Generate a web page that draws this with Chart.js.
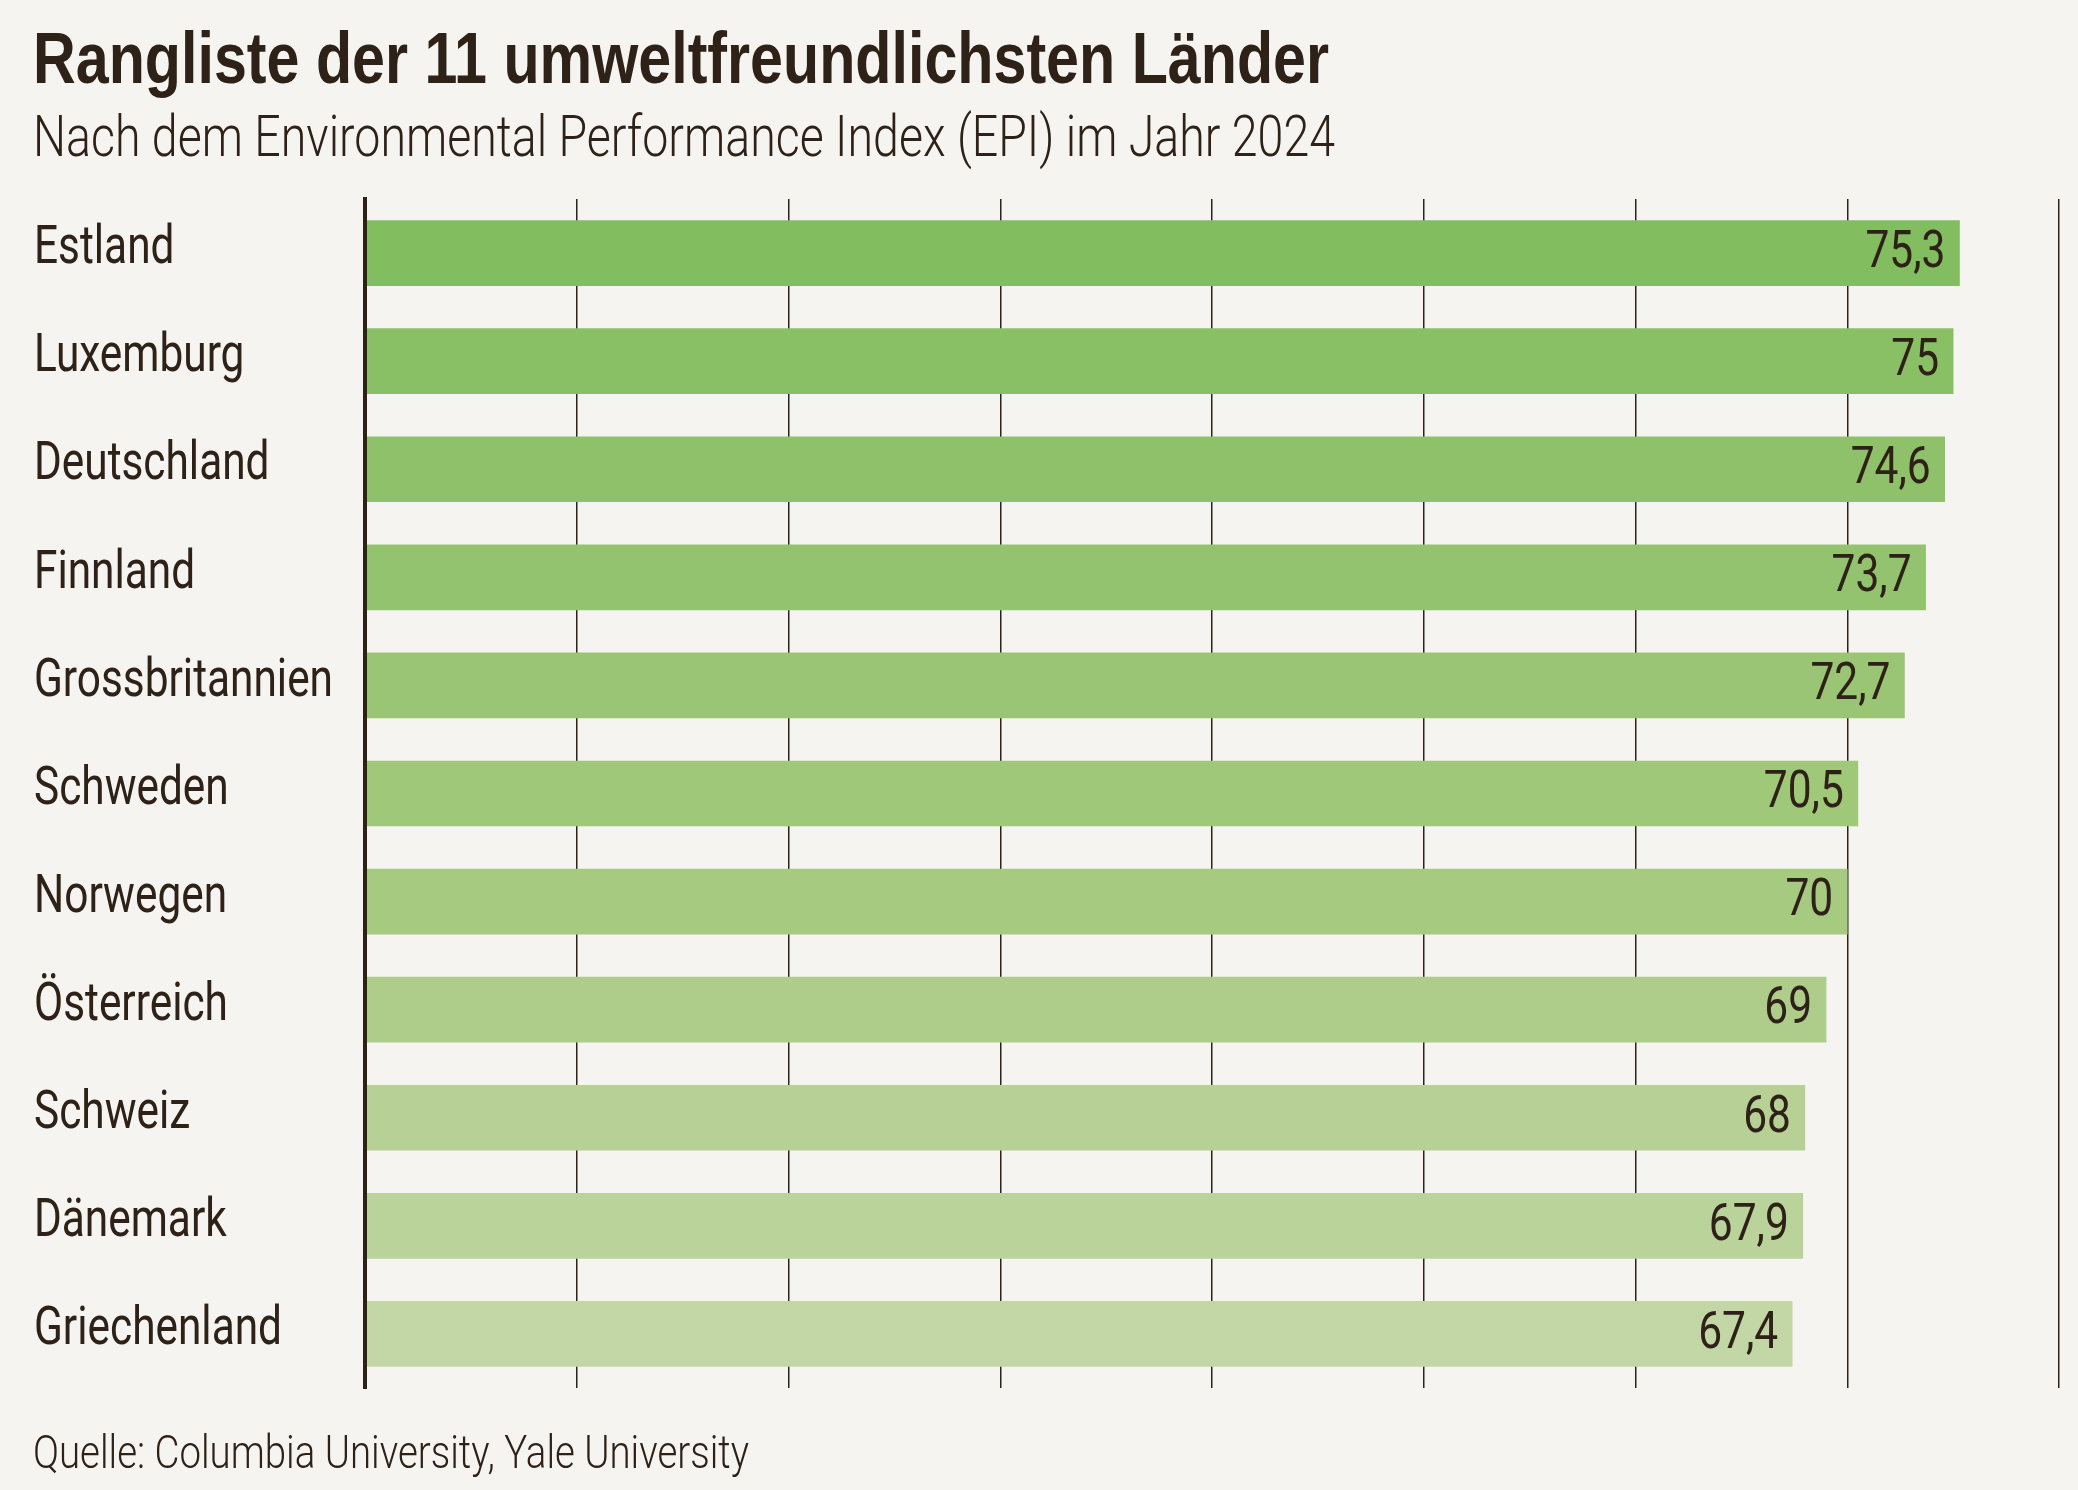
<!DOCTYPE html>
<html><head><meta charset="utf-8">
<script src="https://cdn.jsdelivr.net/npm/chart.js@4"></script>
<style>
html,body{margin:0;padding:0;background:#f5f4f0;}
body{width:2078px;height:1490px;position:relative;overflow:hidden;font-family:Roboto,"Liberation Sans",Arial,sans-serif;color:#2e2218;}
.t{position:absolute;left:33px;white-space:nowrap;line-height:1;transform-origin:0 0;}
#title{top:22px;font-size:72px;font-weight:bold;font-family:"Liberation Sans",Arial,sans-serif;}
#sub{top:108px;font-size:57px;font-weight:300;}
#src{top:1428px;font-size:47px;font-weight:300;}
#wrap{position:absolute;left:0;top:0;width:2078px;height:1490px;}
</style></head>
<body>
<div id="wrap"><canvas id="c" width="2078" height="1490"></canvas></div>
<div class="t" id="title" data-w="1296">Rangliste der 11 umweltfreundlichsten Länder</div>
<div class="t" id="sub" data-w="1302">Nach dem Environmental Performance Index (EPI) im Jahr 2024</div>
<div class="t" id="src" data-w="716">Quelle: Columbia University, Yale University</div>
<script>
const categories = ['Estland','Luxemburg','Deutschland','Finnland','Grossbritannien','Schweden','Norwegen','Österreich','Schweiz','Dänemark','Griechenland'];
const values = [75.3, 75, 74.6, 73.7, 72.7, 70.5, 70, 69, 68, 67.9, 67.4];
const valueLabels = ['75,3','75','74,6','73,7','72,7','70,5','70','69','68','67,9','67,4'];
const barColors = ['#82be60','#89c066','#8ec16a','#93c36e','#99c574','#9fc879','#a6ca80','#afcd8a','#b6d095','#bad39a','#c2d6a6'];
const xTicks = [0,10,20,30,40,50,60,70,80];

const FONT = 'Roboto,"Liberation Sans",Arial,sans-serif';
const INK = '#2e2218';

const labelPlugin = {
  id: 'labels',
  afterDatasetsDraw(chart) {
    const ctx = chart.ctx;
    const meta = chart.getDatasetMeta(0);
    const ys = chart.scales.y;
    ctx.save();
    ctx.fillStyle = INK;
    ctx.textBaseline = 'middle';
    ctx.font = '400 53px ' + FONT;
    const catScale = 248 / ctx.measureText('Griechenland').width;
    ctx.textAlign = 'left';
    categories.forEach((c, i) => {
      const y = ys.getPixelForValue(i) - 3;
      ctx.save();
      ctx.translate(34, y);
      ctx.scale(catScale, 1);
      ctx.fillText(c, 0, 0);
      ctx.restore();
    });
    ctx.font = '400 51px ' + FONT;
    const valScale = 80 / ctx.measureText('75,3').width;
    ctx.textAlign = 'right';
    meta.data.forEach((bar, i) => {
      ctx.save();
      ctx.translate(bar.x - 14, bar.y + 1);
      ctx.scale(valScale, 1);
      ctx.fillText(valueLabels[i], 0, 0);
      ctx.restore();
    });
    ctx.restore();
  }
};

new Chart(document.getElementById('c'), {
  type: 'bar',
  data: {
    labels: categories,
    datasets: [{ data: values, backgroundColor: barColors, barThickness: 65, borderWidth: 0 }]
  },
  options: {
    indexAxis: 'y',
    responsive: false,
    animation: false,
    devicePixelRatio: 1,
    layout: { padding: { top: 199, bottom: 102, left: 34, right: 19 } },
    plugins: { legend: { display: false }, tooltip: { enabled: false } },
    scales: {
      x: {
        min: 0, max: 80,
        afterBuildTicks: s => { s.ticks = xTicks.map(v => ({ value: v })); },
        ticks: { display: false },
        grid: { color: INK, lineWidth: c => (c.tick && c.tick.value === 0) ? 0 : 1.5, drawTicks: false },
        border: { display: false }
      },
      y: {
        afterFit: s => { s.width = 365 - 34; },
        ticks: { display: false },
        grid: { display: false, drawTicks: false },
        border: { display: true, color: INK, width: 4, z: 1 }
      }
    }
  },
  plugins: [labelPlugin]
});

document.querySelectorAll('.t').forEach(el => {
  const w = el.getBoundingClientRect().width;
  const target = +el.dataset.w;
  el.style.transform = 'scaleX(' + (target / w) + ')';
});
</script>
</body></html>
